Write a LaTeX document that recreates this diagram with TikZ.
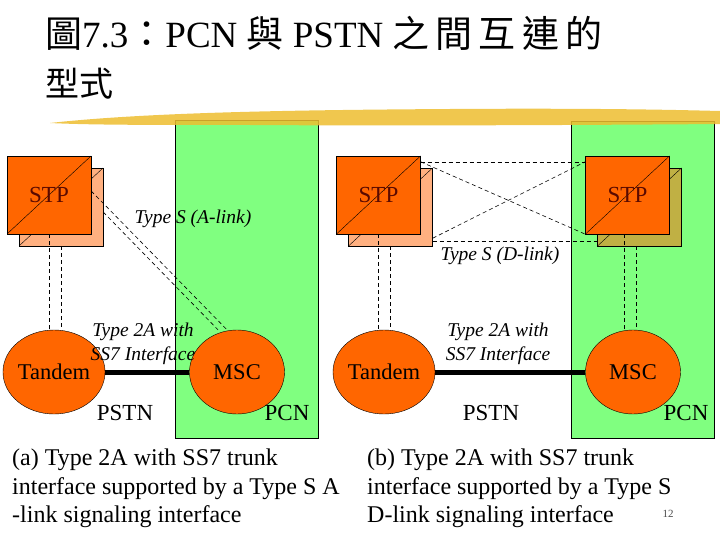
\documentclass[tikz,border=0pt]{standalone}
\usepackage{fontspec}
\setmainfont{Liberation Serif}
\newfontfamily\cjk{Noto Sans CJK TC}
\usepackage{tikz}
\usetikzlibrary{calc,shapes.geometric}
\definecolor{pcngreen}{RGB}{128, 255, 128}
\definecolor{nodeorange}{RGB}{255, 102, 0}
\definecolor{backsalmon}{RGB}{255, 176, 128}
\definecolor{backolive}{RGB}{192, 176, 68}
\definecolor{stptext}{RGB}{90, 10, 0}
\definecolor{brush}{RGB}{238, 190, 48}

\begin{document}
\begin{tikzpicture}[x=1pt, y=-1pt,
  stpfront/.style={draw, fill=nodeorange, minimum width=84pt, minimum height=78pt, inner sep=0pt,
    font=\fontsize{23}{26}\selectfont, text=stptext,
    path picture={\draw[thin] (path picture bounding box.south west) -- (path picture bounding box.north east);}},
  stpback/.style={stpfront, fill=#1},
  switchnode/.style={ellipse, draw, fill=nodeorange, minimum width=95pt, minimum height=84pt, inner sep=0pt,
    font=\fontsize{22.5}{26}\selectfont},
  sslink/.style={dash pattern=on 4pt off 3pt, line width=0.6pt},
  trunk/.style={line width=5pt},
  linklabel/.style={font=\fontsize{19.5}{23.5}\selectfont\itshape, align=center, inner sep=0pt},
  netlabel/.style={font=\fontsize{23}{26}\selectfont, inner sep=0pt},
  caption/.style={anchor=north west, align=left, inner sep=0pt, font=\fontsize{24}{28.5}\selectfont}]
  % Page
  \fill[white] (0,0) rectangle (720,540);

  % Title
  \node[anchor=base west, inner sep=0pt, font=\fontsize{37}{42}\selectfont] (title) at (45,48)
    {{\cjk 圖}7.3{\cjk ：}PCN {\cjk 與} PSTN {\cjk 之\,間\,互\,連\,的}};
  \node[anchor=base west, inner sep=0pt, font=\fontsize{34}{40}\selectfont] (title2) at (45,97) {\cjk 型式};

  % PCN areas
  \draw[fill=pcngreen] (175,120) rectangle (318,438);
  \draw[fill=pcngreen] (571,121) rectangle (714,438);

  % Brush stroke under the title
  \fill[brush, opacity=0.85] (50,123) .. controls (150,112) and (300,110) .. (450,109)
    .. controls (600,108) and (680,110) .. (720,111) -- (720,124)
    .. controls (600,125) and (400,126) .. (250,125) .. controls (150,125) and (90,125) .. (50,123) -- cycle;

  % (a) A-link
  \node[stpback=backsalmon] (stpLb) at (61,207) {};
  \node[stpfront] (stpLf) at (49,195) {STP};
  \node[switchnode] (tandemL) at (54,372) {Tandem};
  \node[switchnode] (mscL) at (237,372) {MSC};
  \draw[sslink] (stpLf.south) -- (stpLf.south |- tandemL.north);
  \draw[sslink] (stpLb.south) -- (stpLb.south |- tandemL.north);
  \draw[sslink] ([yshift=4pt]stpLf.east) -- ([xshift=-10pt]mscL.north);
  \draw[sslink] ([yshift=-5pt]stpLb.east) -- ([xshift=-19pt]mscL.north);
  \draw[trunk] (tandemL.east) -- (mscL.west);
  \node[linklabel] (alink) at (193,219) {Type S (A-link)};
  \node[linklabel] (trunkL) at (143,344) {Type 2A with\\SS7 Interface};
  \node[netlabel] (pstnL) at (125,413) {PSTN};
  \node[netlabel] (pcnL) at (287,413) {PCN};

  % (b) D-link
  \node[stpback=backsalmon] (stpMb) at (390.5,207) {};
  \node[stpfront] (stpMf) at (378.5,195) {STP};
  \node[stpback=backolive] (stpRb) at (639.5,207) {};
  \node[stpfront] (stpRf) at (627.5,195) {STP};
  \node[switchnode] (tandemM) at (384,372) {Tandem};
  \node[switchnode] (mscR) at (633,372) {MSC};
  \draw[sslink] (stpMf.south) -- (stpMf.south |- tandemM.north);
  \draw[sslink] (stpMb.south) -- (stpMb.south |- tandemM.north);
  \draw[sslink] ([xshift=-3pt]stpRf.south) -- ([xshift=-3pt]stpRf.south |- mscR.north);
  \draw[sslink] ([xshift=-3pt]stpRb.south) -- ([xshift=-3pt]stpRb.south |- mscR.north);
  \draw[sslink] ([yshift=-7pt]stpMf.north east) -- ([yshift=-7pt]stpRf.north west);
  \draw[sslink] ([yshift=5pt]stpMb.south east) -- ([yshift=5pt]stpRb.south west);
  \draw[sslink] ([yshift=-6pt]stpMf.north east) -- (stpRf.south west);
  \draw[sslink] ([yshift=8pt]stpMb.south east) -- ([yshift=-6pt]stpRf.north west);
  \draw[trunk] (tandemM.east) -- (mscR.west);
  \node[linklabel] (dlink) at (500,256) {Type S (D-link)};
  \node[linklabel] (trunkR) at (498,344) {Type 2A with\\SS7 Interface};
  \node[netlabel] (pstnR) at (491,413) {PSTN};
  \node[netlabel] (pcnR) at (686,413) {PCN};

  % Captions
  \node[caption] (capA) at (12,449)
    {(a) Type 2A with SS7 trunk\\interface supported by a Type S A\\-link signaling interface};
  \node[caption] (capB) at (367,449)
    {(b) Type 2A with SS7 trunk\\interface supported by a Type S\\D-link signaling interface};
  \node[font=\fontsize{11}{13}\selectfont, text=black!70] (page) at (668,514) {12};
\end{tikzpicture}
\end{document}
